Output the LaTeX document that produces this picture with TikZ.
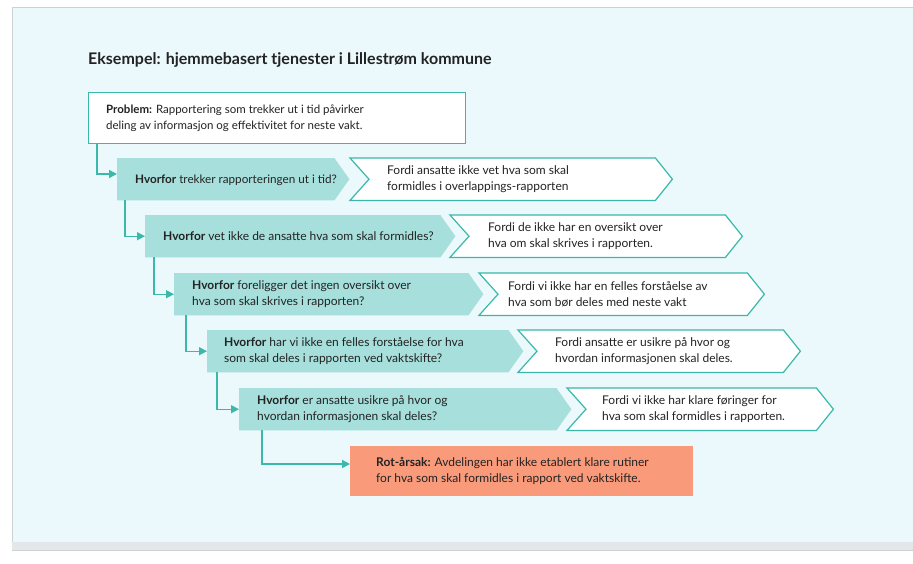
\documentclass[tikz,border=0pt]{standalone}
\usepackage{fontspec}
\setmainfont{Lato}
\usetikzlibrary{arrows.meta,calc}
\definecolor{panelbg}{RGB}{235,249,252}
\definecolor{tealfill}{RGB}{166,223,219}
\definecolor{tealline}{RGB}{58,184,170}
\definecolor{rootfill}{RGB}{249,155,123}
\definecolor{bandgray}{RGB}{228,231,233}
\definecolor{edgegray}{RGB}{205,210,213}
\definecolor{txt}{RGB}{35,35,35}
\tikzset{
  body/.style={rectangle, inner sep=0pt, minimum height=42pt, anchor=north west},
  lbl/.style={anchor=west, inner sep=0pt, align=left, text=txt, font=\fontsize{12}{16}\selectfont},
  conn/.style={draw=tealline, line width=1.4pt, -{Triangle[length=8pt,width=8pt]}},
  tealshape/.style={fill=tealfill},
  whiteshape/.style={fill=white, draw=tealline, line width=1.2pt, line join=miter},
}
\begin{document}
\begin{tikzpicture}[x=1pt,y=-1pt]
\useasboundingbox (0,0) rectangle (913,563);
\fill[white] (0,0) rectangle (913,563);
\fill[panelbg] (12,7) rectangle (913,542);
\draw[edgegray, line width=0.8pt] (12,542) -- (12,7) -- (913,7);
\fill[bandgray] (12,542) rectangle (913,550);
\draw[edgegray, line width=0.8pt] (12,550) -- (913,550);

\node[anchor=west, inner sep=0pt, text=txt, font=\bfseries\fontsize{16}{19}\selectfont] (title) at (88,60) {Eksempel: hjemmebasert tjenester i Lillestrøm kommune};

% problem
\node[rectangle, inner sep=0pt, minimum width=377pt, minimum height=51pt, anchor=north west, fill=white, draw=tealline, line width=1.2pt] (p) at (88,92) {};
\node[lbl, font=\fontsize{11.5}{16.5}\selectfont] (pt) at ($(p.west)+(18,0)$) {\textbf{Problem:} Rapportering som trekker ut i tid påvirker\\deling av informasjon og effektivitet for neste vakt.};

% bodies
\node[body, minimum width=217pt] (q1) at (117,158) {};
\node[body, minimum width=305pt] (w1) at (350,158) {};
\node[body, minimum width=295pt] (q2) at (145,215) {};
\node[body, minimum width=275pt] (w2) at (450,215) {};
\node[body, minimum width=294pt] (q3) at (174,273) {};
\node[body, minimum width=268pt] (w3) at (479,273) {};
\node[body, minimum width=301pt] (q4) at (207,330) {};
\node[body, minimum width=265pt] (w4) at (518,330) {};
\node[body, minimum width=317pt] (q5) at (239,388) {};
\node[body, minimum width=249pt] (w5) at (567,388) {};

\foreach \q in {q1,q2,q3,q4,q5}{
  \fill[tealshape] (\q.north west) -- (\q.north east) -- ($(\q.east)+(15,0)$) -- (\q.south east) -- (\q.south west) -- cycle;
}
\foreach \w in {w1,w2,w3,w4,w5}{
  \draw[whiteshape] (\w.north west) -- (\w.north east) -- ($(\w.east)+(17,0)$) -- (\w.south east) -- (\w.south west) -- ($(\w.west)+(19,0)$) -- cycle;
}

% root
\node[rectangle, inner sep=0pt, minimum width=343pt, minimum height=50pt, anchor=north west, fill=rootfill] (r) at (350,446) {};
\node[lbl] (rt) at ($(r.west)+(26,0)$) {\textbf{Rot-årsak:} Avdelingen har ikke etablert klare rutiner\\for hva som skal formidles i rapport ved vaktskifte.};

% connectors
\draw[conn] ($(p.south west)+(9,0)$) |- ($(q1.north west)+(0,16)$);
\draw[conn] ($(q1.south west)+(8,0)$) |- (q2.west);
\draw[conn] ($(q2.south west)+(9,0)$) |- (q3.west);
\draw[conn] ($(q3.south west)+(12,0)$) |- (q4.west);
\draw[conn] ($(q4.south west)+(10,0)$) |- (q5.west);
\draw[conn] ($(q5.south west)+(23,0)$) |- ($(r.north west)+(0,18)$);

% texts
\node[lbl, font=\fontsize{11.7}{16}\selectfont] (t1) at ($(q1.west)+(18,1)$) {\textbf{Hvorfor} trekker rapporteringen ut i tid?};
\node[lbl] (u1) at ($(w1.west)+(37,0)$) {Fordi ansatte ikke vet hva som skal\\formidles i overlappings-rapporten};
\node[lbl] (t2) at ($(q2.west)+(18,0)$) {\textbf{Hvorfor} vet ikke de ansatte hva som skal formidles?};
\node[lbl] (u2) at ($(w2.west)+(38,0)$) {Fordi de ikke har en oversikt over\\hva om skal skrives i rapporten.};
\node[lbl] (t3) at ($(q3.west)+(18,0)$) {\textbf{Hvorfor} foreligger det ingen oversikt over\\hva som skal skrives i rapporten?};
\node[lbl] (u3) at ($(w3.west)+(29,0)$) {Fordi vi ikke har en felles forståelse av\\hva som bør deles med neste vakt};
\node[lbl] (t4) at ($(q4.west)+(17,0)$) {\textbf{Hvorfor} har vi ikke en felles forståelse for hva\\som skal deles i rapporten ved vaktskifte?};
\node[lbl] (u4) at ($(w4.west)+(37,0)$) {Fordi ansatte er usikre på hvor og\\hvordan informasjonen skal deles.};
\node[lbl] (t5) at ($(q5.west)+(18,0)$) {\textbf{Hvorfor} er ansatte usikre på hvor og\\hvordan informasjonen skal deles?};
\node[lbl] (u5) at ($(w5.west)+(35,0)$) {Fordi vi ikke har klare føringer for\\hva som skal formidles i rapporten.};
\end{tikzpicture}
\end{document}
